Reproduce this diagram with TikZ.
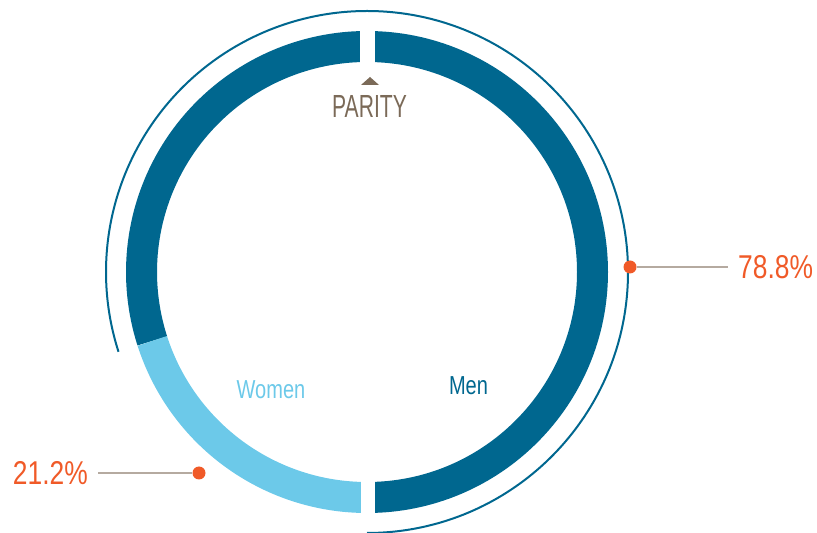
\documentclass[tikz,border=0pt]{standalone}
\usepackage{fontspec}
\setmainfont{Liberation Sans}
\newfontfamily\labelfont[FakeStretch=0.77]{Liberation Sans}
\newfontfamily\titlefont[FakeStretch=0.66]{Liberation Sans}
\newfontfamily\pctfont[FakeStretch=0.8]{Liberation Sans}
\usetikzlibrary{positioning, calc}
\definecolor{mencol}{HTML}{00678F}
\definecolor{womencol}{HTML}{6CC9E9}
\definecolor{pctcol}{HTML}{F05A28}
\definecolor{titlecol}{HTML}{7B6A58}
\definecolor{leadcol}{HTML}{B5AAA0}
\tikzset{
ring/.style={line width=31pt}, % thickness of the donut
rim/.style={mencol, line width=2pt}, % thin outer arc
leader/.style={leadcol, line width=1.2pt, shorten >=10pt}, % line from dot to value
dot/.style={circle, fill=pctcol, inner sep=0pt, minimum size=13pt}, % marker on the arc
pct/.style={text=pctcol, font=\pctfont\fontsize{33}{33}\selectfont, inner sep=0pt},
seglabel/.style={font=\labelfont\fontsize{26}{26}\selectfont, inner sep=0pt, anchor=base},
}

\begin{document}
\begin{tikzpicture}[x=1pt, y=1pt]
\useasboundingbox (0,0) rectangle (817,533);
\coordinate (ctr) at (367,261);
% donut
\draw[ring, mencol] ($(ctr)+(-90:225.5pt)$) arc[start angle=-90, end angle=197.8, radius=225.5pt];
\draw[ring, womencol] ($(ctr)+(197.8:225.5pt)$) arc[start angle=197.8, end angle=270, radius=225.5pt];
% gaps at top and bottom
\fill[white] (360,462) rectangle (375,508);
\fill[white] (360.5,14) rectangle (375,56);
% thin arc
\draw[rim] ($(ctr)+(-90:261pt)$) arc[start angle=-90, end angle=197.8, radius=261pt];
% title
\fill[titlecol] (361,448) -- (379,448) -- (370,456) -- cycle;
\node[font=\titlefont\fontsize{32}{32}\selectfont, text=titlecol, anchor=base, inner sep=0pt] (parity) at (369.5,415) {PARITY};
\node[seglabel, text=womencol] (women) at (271,134) {Women};
\node[seglabel, text=mencol] (men) at (468.5,138) {Men};
% values
\node[dot] (mendot) at (630,266) {};
\node[pct, anchor=west] (menpct) at (738,266) {78.8\%};
\draw[leader] (mendot) -- (menpct.west);
\node[dot] (womendot) at (199,60) {};
\node[pct, anchor=east] (womenpct) at (88,60) {21.2\%};
\draw[leader] (womendot) -- (womenpct.east);
\end{tikzpicture}
\end{document}
